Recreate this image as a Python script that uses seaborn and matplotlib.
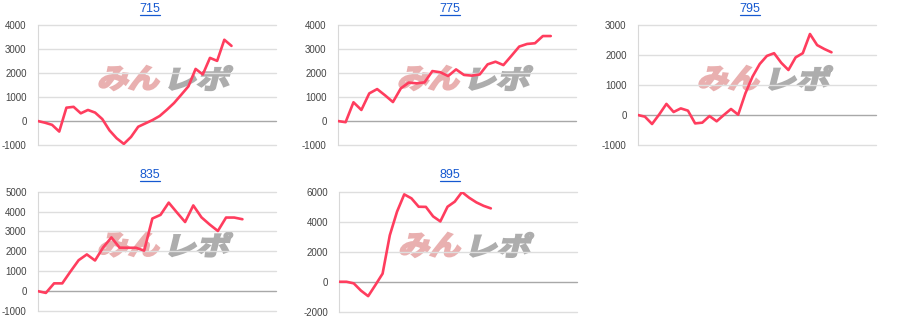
import numpy as np
import pandas as pd
import matplotlib
matplotlib.use("Agg")
import matplotlib.pyplot as plt
from matplotlib.lines import Line2D
from matplotlib.textpath import TextPath
from matplotlib.patches import PathPatch
from matplotlib.font_manager import FontProperties
from matplotlib.transforms import Affine2D
import seaborn as sns

# ---- data ----
titles = ["715", "775", "795", "835", "895"]

s715 = [0, -70, -160, -440, 555, 590, 320, 460, 350, 80, -390, -720, -955, -665,
        -240, -100, 40, 210, 470, 750, 1095, 1445, 2170, 1940, 2630, 2505, 3385, 3130]
s775 = [0, -50, 780, 460, 1150, 1330, 1070, 790, 1360, 1600, 1570, 1610, 2080, 2030,
        1875, 2150, 1920, 1890, 1940, 2360, 2470, 2330, 2710, 3100, 3210, 3240, 3540, 3540]
s795 = [0, -55, -300, 20, 370, 100, 220, 145, -280, -255, -35, -210, 0, 200,
        10, 720, 1280, 1700, 1970, 2060, 1740, 1500, 1920, 2060, 2700, 2330, 2200, 2090]
s835 = [0, -90, 390, 390, 985, 1555, 1845, 1540, 2200, 2700, 2185, 2180, 2180, 2035,
        3650, 3835, 4450, 3955, 3475, 4310, 3710, 3350, 3025, 3700, 3700, 3615]
s895 = [0, 0, -105, -590, -960, -220, 545, 3110, 4685, 5840, 5575, 5015, 5005, 4370,
        4035, 5015, 5355, 5995, 5615, 5305, 5075, 4905]

series = [s715, s775, s795, s835, s895]
yranges = [(-1000, 4000), (-1000, 4000), (-1000, 3000), (-1000, 5000), (-2000, 6000)]
ysteps = [1000, 1000, 1000, 1000, 2000]
xmax = [33.2, 30.2, 33.2, 29.1, 32.9]
watermark_parts = ["みん", "レポ"]

# ---- layout (pixels) ----
W, H = 900, 332
axes_px = [  # left, top, right, bottom
    (37.7, 25, 276, 145),
    (337.7, 25, 576, 145),
    (637.7, 25, 876, 145),
    (37.7, 191.7, 276, 311),
    (339.3, 192, 576.7, 311.7),
]
title_px = [(150, 9.5), (450, 9.5), (750, 9.5), (150, 175.5), (450, 175.5)]

sns.set_theme(style="white")
plt.rcParams["font.family"] = ["Liberation Sans", "DejaVu Sans"]

fig = plt.figure(figsize=(W / 100, H / 100), dpi=100)
fig.patch.set_facecolor("white")

LINE = "#ff3d5e"
GRID = "#dedede"
ZERO = "#a8a8a8"
WM_COLORS = ["#e9b0b0", "#adadad"]
WM_CENTERS = [(0.389, 0.558), (0.685, 0.558)]
WM_SIZE = [(65, 24), (64, 24)]

wm_font = FontProperties(family="Noto Sans CJK JP", weight="bold")


def watermark(ax):
    for txt, col, (fx, fy), (ww, hh) in zip(watermark_parts, WM_COLORS, WM_CENTERS, WM_SIZE):
        tp = TextPath((0, 0), txt, size=10, prop=wm_font)
        ext = tp.get_extents()
        cx, cy = (ext.x0 + ext.x1) / 2, (ext.y0 + ext.y1) / 2
        sx = (ww - 6) / ext.width
        sy = hh / ext.height
        dx, dy = ax.transAxes.transform((fx, fy))
        tr = (Affine2D().translate(-cx, -cy).scale(sx, sy).skew_deg(14, 0)
              .translate(dx, dy))
        patch = PathPatch(tp, transform=tr, facecolor=col, edgecolor=col,
                          linewidth=1.6, zorder=1, clip_on=False)
        ax.add_artist(patch)


axes = []
for i, (vals, (ylo, yhi), step, xm, (l, t, r, b)) in enumerate(
        zip(series, yranges, ysteps, xmax, axes_px)):
    ax = fig.add_axes([l / W, 1 - b / H, (r - l) / W, (b - t) / H])
    ax.set_facecolor("white")
    df = pd.DataFrame({"x": np.arange(len(vals)), "y": vals})
    sns.lineplot(data=df, x="x", y="y", ax=ax, color=LINE, linewidth=1.9, zorder=5)
    ax.set_xlim(0, xm)
    ax.set_ylim(ylo, yhi)
    yt = np.arange(ylo, yhi + 1, step)
    ax.set_yticks(yt)
    ax.set_yticklabels([str(v) for v in yt])
    ax.set_xticks([])
    ax.set_xlabel("")
    ax.set_ylabel("")
    for v in yt:
        ax.axhline(v, color=ZERO if v == 0 else GRID, linewidth=1.0, zorder=2,
                   clip_on=False)
    for s in ["top", "right", "bottom"]:
        ax.spines[s].set_visible(False)
    ax.spines["left"].set_color("#d8d8d8")
    ax.spines["left"].set_linewidth(0.8)
    ax.tick_params(axis="y", length=0, pad=8, labelsize=7, labelcolor="#444444")
    ax.grid(False)
    watermark(ax)
    axes.append(ax)

# titles with underline
tt = []
for name, (cx, cy) in zip(titles, title_px):
    t = fig.text(cx / W, 1 - cy / H, name, ha="center", va="center",
                 fontsize=9, color="#1558d0")
    tt.append(t)
fig.canvas.draw()
r = fig.canvas.get_renderer()
for t in tt:
    bb = t.get_window_extent(renderer=r)
    yline = bb.y0 + 0.5
    fig.add_artist(Line2D([bb.x0 / W, bb.x1 / W], [yline / H, yline / H],
                          transform=fig.transFigure, color="#1558d0", linewidth=0.9))

fig.savefig("out.png", dpi=100, facecolor="white")
